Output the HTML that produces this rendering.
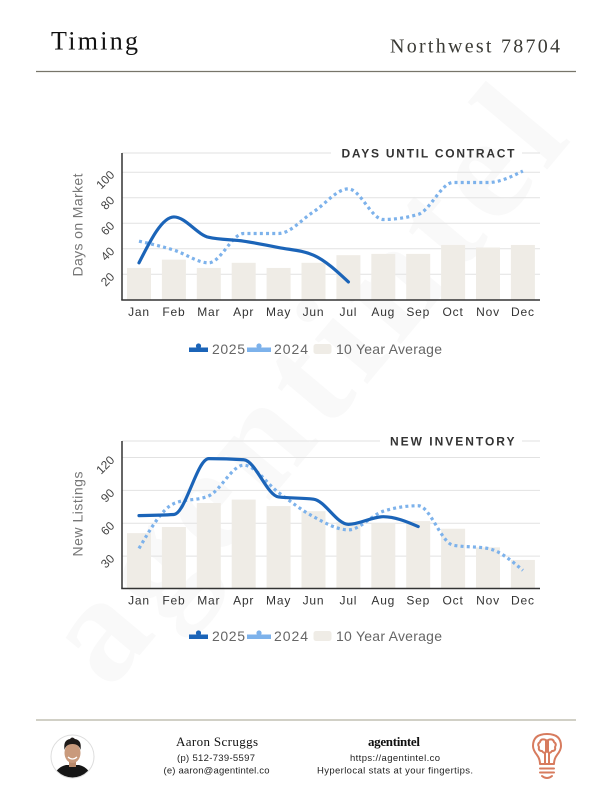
<!DOCTYPE html>
<html><head><meta charset="utf-8">
<style>
html,body{margin:0;padding:0;background:#fff;}
svg{display:block;}
.ax{font-family:"Liberation Sans",sans-serif;font-size:12px;fill:#333;letter-spacing:0.8px;}
.tk{font-family:"Liberation Sans",sans-serif;font-size:12px;fill:#444;}
.lg{font-family:"Liberation Sans",sans-serif;font-size:14px;fill:#666;}
.yt{font-family:"Liberation Sans",sans-serif;font-size:14px;fill:#777;}
.tt{font-family:"Liberation Sans",sans-serif;font-size:12px;font-weight:bold;fill:#333;}
.sf{font-family:"Liberation Serif",serif;}
.ft{font-family:"Liberation Sans",sans-serif;font-size:9.5px;fill:#222;}
</style></head>
<body>
<svg id="s" width="612" height="792" viewBox="0 0 612 792" xmlns="http://www.w3.org/2000/svg">
<rect width="612" height="792" fill="#fff"/>
<!-- watermark -->
<text x="310" y="430" text-anchor="middle" transform="rotate(-50 310 390)" font-family="Liberation Serif, serif" font-weight="bold" font-size="150" fill="#f9f9f9" textLength="720" lengthAdjust="spacing">agentintel</text>

<!-- header -->
<text x="51" y="49.5" class="sf" font-size="26" fill="#111" textLength="87" lengthAdjust="spacing">Timing</text>
<text x="390" y="52.5" class="sf" font-size="20" fill="#3a3a35" textLength="170" lengthAdjust="spacing">Northwest 78704</text>
<line x1="36" y1="71.5" x2="576" y2="71.5" stroke="#77756a" stroke-width="1.2"/>

<g id="c1"></g>
<g id="c2"></g>

<!-- footer -->
<line x1="36" y1="720" x2="576" y2="720" stroke="#a3a18e" stroke-width="1"/>
<defs><clipPath id="av"><circle cx="72.5" cy="756.5" r="21"/></clipPath></defs>
<circle cx="72.5" cy="756.5" r="21.5" fill="#fff" stroke="#ddd" stroke-width="1"/>
<g clip-path="url(#av)">
  <path d="M52 780 Q56 767 66 765 L79 765 Q89 767 93 780 Z" fill="#161616"/>
  <rect x="69" y="760" width="7" height="7" fill="#b98a6c"/>
  <ellipse cx="72.5" cy="753" rx="8" ry="10" fill="#c99a7c"/>
  <path d="M64.5 750 Q63 740 70 739 Q72 736 75 739 Q82 740 80.5 750 Q79 744 72.5 744 Q66 744 64.5 750 Z" fill="#1e1a18"/>
  <path d="M68 757 Q72.5 761 77 757" stroke="#fff" stroke-width="1.3" fill="none"/>
</g>
<text x="176" y="746" class="sf" font-size="13" fill="#111" textLength="82" lengthAdjust="spacing">Aaron Scruggs</text>
<text x="177" y="761" class="ft" textLength="78" lengthAdjust="spacing">(p) 512-739-5597</text>
<text x="163.5" y="773.5" class="ft" textLength="106" lengthAdjust="spacing">(e) aaron@agentintel.co</text>
<text x="368" y="746" class="sf" font-size="13" font-weight="bold" fill="#111" textLength="52" lengthAdjust="spacing">agentintel</text>
<text x="350" y="761" class="ft" textLength="90" lengthAdjust="spacing">https://agentintel.co</text>
<text x="317" y="773.5" class="ft" textLength="156" lengthAdjust="spacing">Hyperlocal stats at your fingertips.</text>
<!-- bulb -->
<g fill="none" stroke="#d77b5e" stroke-width="2" stroke-linecap="round" stroke-linejoin="round">
  <path d="M540 764 Q540 759 537 755 Q533 750 533 746 Q533 734 547 734 Q561 734 561 746 Q561 750 557 755 Q554 759 554 764 Z"/>
  <line x1="540" y1="768.5" x2="554" y2="768.5"/>
  <line x1="540" y1="772.5" x2="554" y2="772.5"/>
  <path d="M542 776 Q547 780 552 776"/>
  <path d="M546 740 Q541 738 540 742 Q537 744 539 747 Q538 751 542 751 Q544 754 546 752 Z"/>
  <path d="M548 740 Q553 738 554 742 Q557 744 555 747 Q556 751 552 751 Q550 754 548 752 Z"/>
  <line x1="545" y1="753" x2="545" y2="764"/>
  <line x1="549" y1="753" x2="549" y2="764"/>
</g>
</svg>
<script>
(function(){
var NS="http://www.w3.org/2000/svg";
function el(parent,tag,attrs,txt){var e=document.createElementNS(NS,tag);for(var k in attrs)e.setAttribute(k,attrs[k]);if(txt!=null)e.textContent=txt;parent.appendChild(e);return e;}
function sign(x){return x<0?-1:1;}
function mono(xs,ys){
  var n=xs.length,t=new Array(n);
  for(var i=1;i<n-1;i++){
    var h0=xs[i]-xs[i-1],h1=xs[i+1]-xs[i],s0=(ys[i]-ys[i-1])/h0,s1=(ys[i+1]-ys[i])/h1,p=(s0*h1+s1*h0)/(h0+h1);
    t[i]=(sign(s0)+sign(s1))*Math.min(Math.abs(s0),Math.abs(s1),0.5*Math.abs(p))||0;
  }
  if(n>2){
    t[0]=(3*(ys[1]-ys[0])/(xs[1]-xs[0])-t[1])/2;
    t[n-1]=(3*(ys[n-1]-ys[n-2])/(xs[n-1]-xs[n-2])-t[n-2])/2;
  }
  var d="M"+xs[0].toFixed(2)+" "+ys[0].toFixed(2);
  for(var i=0;i<n-1;i++){
    var dx=(xs[i+1]-xs[i])/3;
    d+=" C"+(xs[i]+dx).toFixed(2)+" "+(ys[i]+dx*t[i]).toFixed(2)+" "+(xs[i+1]-dx).toFixed(2)+" "+(ys[i+1]-dx*t[i+1]).toFixed(2)+" "+xs[i+1].toFixed(2)+" "+ys[i+1].toFixed(2);
  }
  return d;
}
var months=["Jan","Feb","Mar","Apr","May","Jun","Jul","Aug","Sep","Oct","Nov","Dec"];
function cx(i){return 139+34.9*i;}
function chart(g,cfg){
  var Y=function(v){return cfg.y0-cfg.k*v;};
  // gridlines
  cfg.ticks.forEach(function(v){
    var y=Y(v);
    el(g,"line",{x1:122,y1:y,x2:540,y2:y,stroke:"#e2e2e2","stroke-width":1});
    el(g,"text",{x:113,y:y+1,"text-anchor":"end","dominant-baseline":"middle","class":"tk",transform:"rotate(-45 113 "+(y+1)+")"},String(v));
  });
  // top line with title
  el(g,"line",{x1:122,y1:cfg.top,x2:cfg.tl1,y2:cfg.top,stroke:"#e2e2e2","stroke-width":1});
  el(g,"line",{x1:522,y1:cfg.top,x2:540,y2:cfg.top,stroke:"#e2e2e2","stroke-width":1});
  el(g,"text",{x:cfg.tx,y:cfg.top+4.5,"class":"tt",textLength:cfg.tw,lengthAdjust:"spacing"},cfg.title);
  // bars
  cfg.bars.forEach(function(v,i){
    el(g,"rect",{x:cx(i)-12,y:Y(v),width:24,height:cfg.axis-Y(v),fill:"#efece6"});
  });
  // axes
  el(g,"line",{x1:122,y1:cfg.top,x2:122,y2:cfg.axis,stroke:"#333","stroke-width":1.5});
  el(g,"line",{x1:121.25,y1:cfg.axis,x2:540,y2:cfg.axis,stroke:"#333","stroke-width":1.5});
  // x labels
  months.forEach(function(m,i){
    el(g,"text",{x:cx(i),y:cfg.axis+16,"text-anchor":"middle","class":"ax"},m);
  });
  // y title
  el(g,"text",{x:0,y:0,"class":"yt","text-anchor":"middle",textLength:cfg.ytw,lengthAdjust:"spacing",transform:"translate(82.5 "+cfg.ytc+") rotate(-90)"},cfg.ytitle);
  // lines
  var xs1=cfg.l24.map(function(v,i){return cx(i);}),ys1=cfg.l24.map(Y);
  el(g,"path",{d:mono(xs1,ys1),fill:"none",stroke:"#7db2eb","stroke-width":3.2,"stroke-dasharray":"3 3.2"});
  var xs2=cfg.l25.map(function(v,i){return cx(i);}),ys2=cfg.l25.map(Y);
  el(g,"path",{d:mono(xs2,ys2),fill:"none",stroke:"#1b64b8","stroke-width":3.2,"stroke-linecap":"round"});
  // legend
  var ly=cfg.leg;
  el(g,"rect",{x:189,y:ly-6.5,width:19,height:4.5,fill:"#1b64b8"});
  el(g,"circle",{cx:198.5,cy:ly-8,r:2.6,fill:"#1b64b8"});
  el(g,"text",{x:212,y:ly,"class":"lg",textLength:33,lengthAdjust:"spacing"},"2025");
  el(g,"rect",{x:247,y:ly-6.5,width:24,height:4.5,fill:"#7db2eb"});
  el(g,"circle",{cx:259,cy:ly-8,r:2.6,fill:"#7db2eb"});
  el(g,"text",{x:274,y:ly,"class":"lg",textLength:34,lengthAdjust:"spacing"},"2024");
  el(g,"rect",{x:313.5,y:ly-10,width:18,height:10,rx:2.5,fill:"#efece6"});
  el(g,"text",{x:336,y:ly,"class":"lg",textLength:106,lengthAdjust:"spacing"},"10 Year Average");
}
chart(document.getElementById("c1"),{
  y0:299.8,k:1.275,axis:300,top:153,ticks:[20,40,60,80,100],
  title:"DAYS UNTIL CONTRACT",tx:341.5,tw:173,tl1:331,
  bars:[25,31.5,25,29,25,29,35,36,36,43,41,43],
  l25:[29,65,49,46,41,35,14],
  l24:[46,39,29,52,52,69,87,63,67,92,92,101],
  ytitle:"Days on Market",ytw:103,ytc:225,leg:354
});
chart(document.getElementById("c2"),{
  y0:589,k:1.0956,axis:588.5,top:441,ticks:[30,60,90,120],
  title:"NEW INVENTORY",tx:390,tw:124.5,tl1:380,
  bars:[51,56.6,78.5,81.6,75.7,71,61,60,62,55,38,26.5],
  l25:[67,68,119,118,84,82,59,66,57],
  l24:[37,78,85,113,88,66,54,71,76,40,37,17],
  ytitle:"New Listings",ytw:85,ytc:514,leg:641
});
})();
</script>
</body></html>
